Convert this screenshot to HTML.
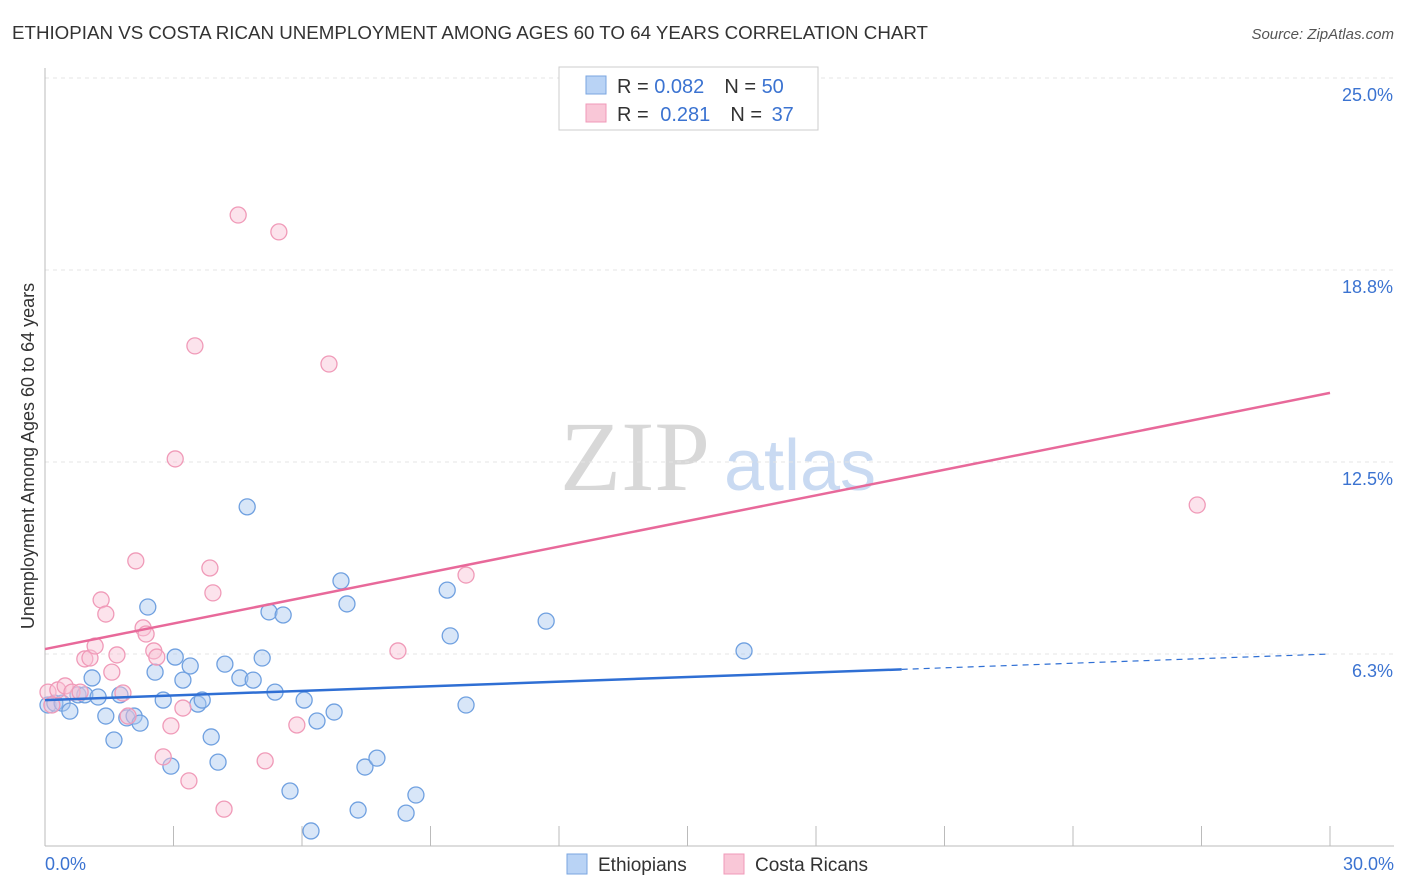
<!DOCTYPE html>
<html><head><meta charset="utf-8">
<style>
body{margin:0;background:#fff;font-family:"Liberation Sans",sans-serif;}
#wrap{position:relative;width:1406px;height:892px;overflow:hidden;}
</style></head>
<body>
<div id="wrap">
<svg id="chart" width="1406" height="892" xmlns="http://www.w3.org/2000/svg">
<text x="12" y="39" font-size="18" fill="#333" textLength="916" lengthAdjust="spacingAndGlyphs">ETHIOPIAN VS COSTA RICAN UNEMPLOYMENT AMONG AGES 60 TO 64 YEARS CORRELATION CHART</text>
<text x="1394" y="39" font-size="15" fill="#555" text-anchor="end" font-style="italic">Source: ZipAtlas.com</text>
<text x="635" y="490" font-size="100" fill="#d8d8d8" font-family="Liberation Serif,serif" text-anchor="middle">ZIP</text>
<text x="800" y="490" font-size="72" fill="#c9daf2" text-anchor="middle">atlas</text>
<g id="grid"></g>
<g id="marks"></g>
<text transform="translate(34,456) rotate(-90)" font-size="18" fill="#333" text-anchor="middle">Unemployment Among Ages 60 to 64 years</text>
<rect x="559" y="67" width="259" height="63" fill="#fff" stroke="#ccc"/>
<rect x="586" y="76" width="20" height="18" fill="#b9d3f5" stroke="#7aa6e0"/>
<rect x="586" y="104" width="20" height="18" fill="#f9c7d7" stroke="#f09ab8"/>
<text x="617" y="93" font-size="20" fill="#333">R = <tspan fill="#3b73d1">0.082</tspan><tspan dx="20">N = </tspan><tspan fill="#3b73d1">50</tspan></text>
<text x="617" y="121" font-size="20" fill="#333">R = <tspan fill="#3b73d1" dx="6">0.281</tspan><tspan dx="20">N = </tspan><tspan fill="#3b73d1" dx="4">37</tspan></text>
<rect x="567" y="854" width="20" height="20" fill="#b9d3f5" stroke="#7aa6e0"/>
<text x="598" y="871" font-size="19" fill="#333">Ethiopians</text>
<rect x="724" y="854" width="20" height="20" fill="#f9c7d7" stroke="#f09ab8"/>
<text x="755" y="871" font-size="19" fill="#333">Costa Ricans</text>
</svg>
</div>
<script>
const xTicks=[0,3,6,9,12,15,18,21,24,27,30];
const yTicks=[6.25,12.5,18.75,25];
const yTickLabels=["6.3%","12.5%","18.8%","25.0%"];
const xLabels=["0.0%","30.0%"];
const ethX=[0.07,0.23,0.40,0.58,0.77,0.93,1.10,1.24,1.42,1.61,1.75,1.91,2.08,2.22,2.40,2.57,2.76,2.94,3.04,3.22,3.39,3.57,3.67,3.88,4.04,4.20,4.55,4.72,4.86,5.07,5.23,5.37,5.56,5.72,6.05,6.21,6.35,6.75,6.91,7.05,7.31,7.47,7.75,8.43,8.66,9.39,9.46,9.83,11.70,16.32];
const ethY=[4.59,4.65,4.65,4.39,4.92,4.92,5.47,4.85,4.23,3.45,4.92,4.17,4.23,4.00,7.78,5.66,4.75,2.60,6.15,5.40,5.86,4.62,4.75,3.55,2.73,5.92,5.47,11.04,5.40,6.12,7.62,5.01,7.52,1.79,4.75,0.49,4.07,4.36,8.63,7.88,1.17,2.57,2.86,1.07,1.66,8.33,6.84,4.59,7.32,6.35];
const crX=[0.07,0.16,0.30,0.47,0.63,0.82,0.93,1.05,1.17,1.31,1.42,1.56,1.68,1.82,1.94,2.12,2.29,2.36,2.54,2.61,2.76,2.94,3.04,3.22,3.36,3.50,3.85,3.92,4.18,4.51,5.14,5.46,5.88,6.63,8.24,9.83,26.90];
const crY=[5.01,4.59,5.08,5.21,5.01,5.01,6.09,6.12,6.51,8.01,7.55,5.66,6.22,4.98,4.23,9.28,7.10,6.90,6.35,6.15,2.90,3.91,12.60,4.49,2.12,16.28,9.05,8.24,1.20,20.54,2.77,19.99,3.94,15.69,6.35,8.82,11.10];
const ethTrend=[4.75,6.25];
const crTrend=[6.41,14.75];
const ethSolidEnd=20;
const NS="http://www.w3.org/2000/svg";
const X=v=>45+v/30*1285, Y=v=>846-v/25*768;
const grid=document.getElementById('grid'), marks=document.getElementById('marks');
function mk(tag,attrs,parent){const e=document.createElementNS(NS,tag);for(const k in attrs)e.setAttribute(k,attrs[k]);parent.appendChild(e);return e;}
yTicks.forEach((t,i)=>{
 const l=mk('line',{x1:45,x2:1394,y1:Y(t),y2:Y(t),stroke:'#e4e4e4','stroke-dasharray':'4,4'},grid);
 
 
 const tx=mk('text',{x:1393,y:Y(t)+23,'font-size':18,fill:'#3b73d1','text-anchor':'end'},grid);
 tx.textContent=yTickLabels[i];
 
 
});
const ax=mk('line',{x1:45,x2:45,y1:68,y2:846,stroke:'#bbb'},grid);


const bx=mk('line',{x1:45,x2:1394,y1:846,y2:846,stroke:'#bbb'},grid);


xTicks.forEach(t=>{
 const l=mk('line',{x1:X(t),x2:X(t),y1:826,y2:846,stroke:'#bbb'},grid);
 
 
});
[[0,'start',45],[30,'end',1394]].forEach((d,i)=>{
 const tx=mk('text',{x:d[2],y:870,'font-size':18,fill:'#3b73d1','text-anchor':d[1]},grid);
 tx.textContent=xLabels[i];
 
 
});
function pts(xs,ys,fill,stroke,name){
 xs.forEach((x,i)=>{
  const c=mk('circle',{cx:X(x),cy:Y(ys[i]),r:8,fill:fill,'fill-opacity':0.45,stroke:stroke,'stroke-width':1.3},marks);
  
  
 });
}
pts(ethX,ethY,'#a8c8f0','#6fa0e0','ethiopian-point');
pts(crX,crY,'#f8c0d4','#f09ab8','costa-rican-point');
const ey=v=>ethTrend[0]+(ethTrend[1]-ethTrend[0])*v/30;
let l1=mk('line',{x1:X(0),y1:Y(ey(0)),x2:X(ethSolidEnd),y2:Y(ey(ethSolidEnd)),stroke:'#2f6fd4','stroke-width':2.5},marks);


let l2=mk('line',{x1:X(ethSolidEnd),y1:Y(ey(ethSolidEnd)),x2:X(30),y2:Y(ey(30)),stroke:'#2f6fd4','stroke-width':1.2,'stroke-dasharray':'6,5'},marks);


let l3=mk('line',{x1:X(0),y1:Y(crTrend[0]),x2:X(30),y2:Y(crTrend[1]),stroke:'#e8699a','stroke-width':2.5},marks);


</script>
</body></html>
